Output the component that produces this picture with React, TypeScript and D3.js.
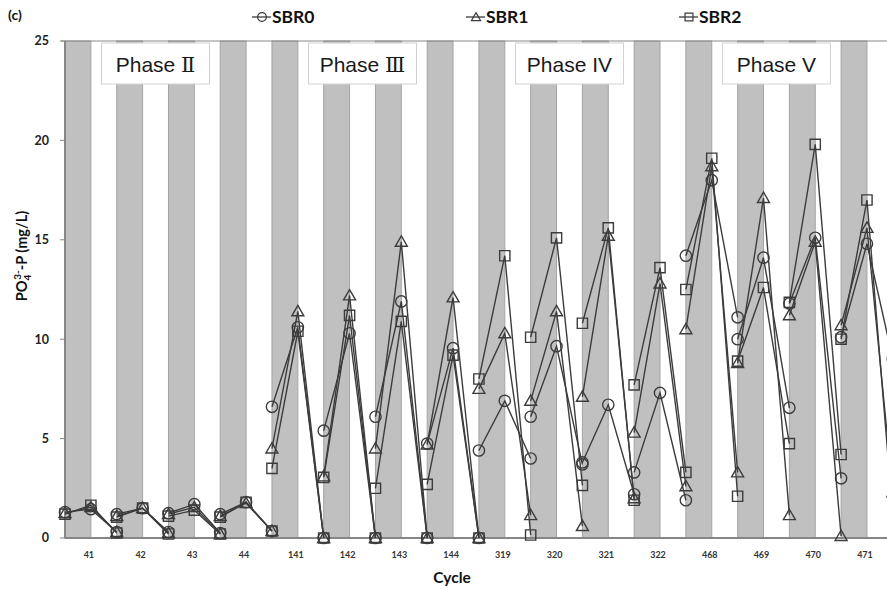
import * as d3 from "d3";

// cycles on the x axis, grouped 4 per phase
const cycles = ["41", "42", "43", "44", "141", "142", "143", "144", "319", "320", "321", "322", "468", "469", "470", "471"];
const phases = ["Phase Ⅱ", "Phase Ⅲ", "Phase Ⅳ", "Phase Ⅴ"];
const yTicks = [0, 5, 10, 15, 20, 25];

// [start, peak, end] of each cycle, PO4-P in mg/L
const sbr0 = [
    [1.3, 1.45, 0.3], [1.2, 1.5, 0.3], [1.25, 1.7, 0.25], [1.2, 1.8, 0.35],
    [6.6, 10.6, 0], [5.4, 10.3, 0], [6.1, 11.9, 0], [4.75, 9.55, 0],
    [4.4, 6.9, 4.0], [6.1, 9.65, 3.7], [3.8, 6.7, 2.2], [3.3, 7.3, 1.9],
    [14.2, 18.0, 11.1], [10.0, 14.1, 6.55], [11.8, 15.1, 3.0], [10.1, 14.8, 9.0],
];
const sbr1 = [
    [1.25, 1.55, 0.3], [1.1, 1.5, 0.25], [1.2, 1.55, 0.2], [1.1, 1.75, 0.35],
    [4.5, 11.4, 0], [3.1, 12.2, 0], [4.5, 14.9, 0], [4.7, 12.1, 0],
    [7.5, 10.3, 1.15], [6.9, 11.4, 0.6], [7.1, 15.2, 2.0], [5.3, 12.8, 2.6],
    [10.5, 18.7, 3.3], [8.8, 17.1, 1.15], [11.2, 14.9, 0.1], [10.7, 15.6, 2.3],
];
const sbr2 = [
    [1.2, 1.65, 0.25], [1.05, 1.5, 0.2], [1.1, 1.4, 0.2], [1.05, 1.8, 0.35],
    [3.5, 10.4, 0], [3.05, 11.2, 0], [2.5, 10.9, 0], [2.7, 9.2, 0],
    [8.0, 14.2, 0.15], [10.1, 15.1, 2.65], [10.8, 15.6, 1.9], [7.7, 13.6, 3.3],
    [12.5, 19.1, 2.1], [8.9, 12.6, 4.75], [11.85, 19.8, 4.2], [10.0, 17.0, 1.1],
];

const seriesNames = ["SBR0", "SBR1", "SBR2"];
const seriesData = [sbr0, sbr1, sbr2];
const markerTypes = [d3.symbolCircle, d3.symbolTriangle, d3.symbolSquare];
const markerSizes = [100, 62, 105];

const LINE = "#3c3c3c";
const FONT = "Lato, 'Open Sans', sans-serif";

export default function App() {
    const width = 887, height = 589;
    const half = 25.87;
    const left = 65;

    // x is measured in half-cycles: cycle i runs from 2i (start) to 2i+2 (end)
    const x = d3.scaleLinear().domain([0, cycles.length * 2]).range([left, left + cycles.length * 2 * half]);
    const y = d3.scaleLinear().domain([0, 25]).range([538, 41]);

    const line = d3.line<[number, number]>().x((d) => x(d[0])).y((d) => y(d[1]));

    const legendX = [262, 476, 689];

    return (
        <svg width={width} height={height} style={{ position: "absolute", left: 0, top: 0, background: "#fff" }}>
            {/* shaded bands */}
            {cycles.map((c, i) => (
                <rect key={"b" + c} x={x(2 * i)} y={y(25)} width={x(2 * i + 1) - x(2 * i)} height={y(0) - y(25)}
                    fill="#c0c0c0" stroke="#a4a4a4" strokeWidth={1} />
            ))}
            {/* top frame line */}
            <line x1={61} x2={width} y1={y(25)} y2={y(25)} stroke="#8a8a8a" strokeWidth={1.2} />

            {/* phase labels */}
            {phases.map((p, g) => {
                const cx = x(8 * g + 3.5);
                const [word, num] = p.split(" ");
                return (
                    <g key={p}>
                        <rect x={cx - 54} y={43} width={108} height={41} fill="#fff" stroke="#d2d2d2" strokeWidth={1} />
                        <text x={cx} y={72} textAnchor="middle" fontSize={21} fill="#1a1a1a"
                            fontFamily="'Liberation Sans', Arial, sans-serif">
                            {word}{" "}
                            <tspan fontFamily={g < 2 ? "'DejaVu Serif', serif" : "'Liberation Sans', Arial, sans-serif"}>
                                {g < 2 ? num : (g === 2 ? "IV" : "V")}
                            </tspan>
                        </text>
                    </g>
                );
            })}

            {/* axes */}
            <line x1={left} x2={left} y1={y(25)} y2={y(0)} stroke="#868686" strokeWidth={2} />
            <line x1={left} x2={width} y1={y(0)} y2={y(0)} stroke="#868686" strokeWidth={2} />
            {yTicks.map((t) => (
                <g key={"t" + t}>
                    <line x1={60} x2={left} y1={y(t)} y2={y(t)} stroke="#868686" strokeWidth={1} />
                    <text x={49} y={y(t)} dy="0.35em" textAnchor="end" fontSize={12.5} fontWeight="bold"
                        fontFamily={FONT} fill="#222">{t}</text>
                </g>
            ))}
            {cycles.map((c, i) => (
                <text key={"l" + c} x={x(2 * i + 1) - 2} y={558} textAnchor="middle" fontSize={9}
                    fontWeight="bold" fontFamily={FONT} fill="#333">{c}</text>
            ))}

            {/* series */}
            {seriesData.map((s, k) => (
                <g key={seriesNames[k]}>
                    {s.map((v, i) => (
                        <path key={i} d={line(v.map((val, j) => [2 * i + j, val] as [number, number])) || ""}
                            fill="none" stroke={LINE} strokeWidth={1.4} />
                    ))}
                </g>
            ))}
            {seriesData.map((s, k) => (
                <g key={"m" + seriesNames[k]}>
                    {s.flatMap((v, i) => v.map((val, j) => (
                        <path key={i + "-" + j}
                            transform={`translate(${x(2 * i + j)},${y(val) + (k === 1 ? 1 : 0)})`}
                            d={d3.symbol().type(markerTypes[k]).size(markerSizes[k])() || ""}
                            fill="none" stroke={LINE} strokeWidth={1.4} />
                    )))}
                </g>
            ))}

            {/* legend */}
            {seriesNames.map((n, k) => (
                <g key={"lg" + n} transform={`translate(${legendX[k]},17)`}>
                    <line x1={-10} x2={9} y1={0} y2={0} stroke={LINE} strokeWidth={1.3} />
                    <path d={d3.symbol().type(markerTypes[k]).size(markerSizes[k] * 0.6)() || ""}
                        transform={k === 1 ? "translate(0,1)" : ""}
                        fill="none" stroke={LINE} strokeWidth={1.2} />
                    <text x={10} y={0} dy="0.36em" fontSize={17.5} fontWeight="bold" fontFamily={FONT} fill="#111">{n}</text>
                </g>
            ))}

            <text x={8} y={20} fontSize={14} fontWeight="bold" fontFamily={FONT} fill="#111">(c)</text>

            {/* axis titles */}
            <text transform="translate(27,256) rotate(-90)" textAnchor="middle" fontSize={14.5} fontWeight="bold"
                fontFamily={FONT} fill="#111">
                PO<tspan fontSize={10} dy={4}>4</tspan><tspan fontSize={10} dy={-10} dx={-5}>3-</tspan>
                <tspan dy={6}>-P (mg/L)</tspan>
            </text>
            <text x={452} y={583} textAnchor="middle" fontSize={15.5} fontWeight="bold" fontFamily={FONT} fill="#111">Cycle</text>
        </svg>
    );
}
